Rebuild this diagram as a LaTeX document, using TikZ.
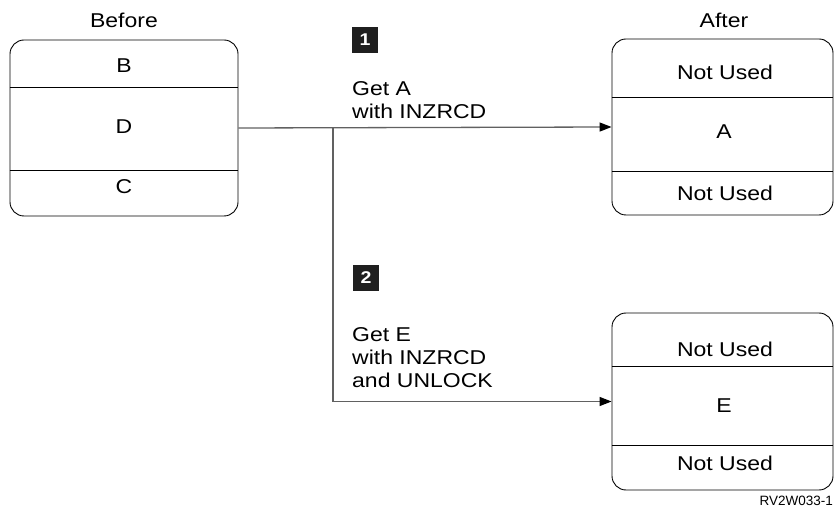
\documentclass[tikz,border=0pt]{standalone}
\usepackage{fontspec}
\setmainfont[FakeStretch=1.15]{Liberation Sans}
\newfontfamily\plainsans{Liberation Sans}
\usetikzlibrary{arrows.meta}
\begin{document}
\begin{tikzpicture}[x=1pt,y=-1pt,
  frame/.style={draw=black, line width=0.9pt, rounded corners=14pt, inner sep=0pt},
  sepline/.style={draw=black, line width=0.8pt},
  lbl/.style={font=\fontsize{20}{23}\selectfont, inner sep=0pt},
  small/.style={font=\plainsans\fontsize{13.5}{16}\selectfont, inner sep=0pt},
  numbox/.style={fill=black!88, text=white, font=\fontsize{17}{17}\selectfont\bfseries,
                 minimum width=26pt, minimum height=26pt, inner sep=0pt},
  flow/.style={draw=black!62, line width=1.3pt,
               -{Triangle[length=12pt,width=9pt,color=black]}}]
\useasboundingbox (0,0) rectangle (835,518);

% Before
\node[lbl] (lbefore) at (124,20) {Before};
\node[frame, minimum width=228pt, minimum height=176pt] (before) at (124,128) {};
\draw[sepline] (before.west |- 0,87) -- (before.east |- 0,87);
\draw[sepline] (before.west |- 0,170) -- (before.east |- 0,170);
\node[lbl] (tB) at (124,66) {B};
\node[lbl] (tD) at (124,127) {D};
\node[lbl] (tC) at (124,187) {C};

% After A
\node[lbl] (lafter) at (724,20) {After};
\node[frame, minimum width=221pt, minimum height=176pt] (afterA) at (722.5,127) {};
\draw[sepline] (afterA.west |- 0,97) -- (afterA.east |- 0,97);
\draw[sepline] (afterA.west |- 0,171) -- (afterA.east |- 0,171);
\node[lbl] (a1) at (725,72) {Not Used};
\node[lbl] (a2) at (724,132) {A};
\node[lbl] (a3) at (725,193) {Not Used};

% After E
\node[frame, minimum width=221pt, minimum height=177pt] (afterE) at (722.5,401.5) {};
\draw[sepline] (afterE.west |- 0,366) -- (afterE.east |- 0,366);
\draw[sepline] (afterE.west |- 0,445) -- (afterE.east |- 0,445);
\node[lbl] (e1) at (725,349) {Not Used};
\node[lbl] (e2) at (724,406) {E};
\node[lbl] (e3) at (725,463) {Not Used};

% connectors
\coordinate (br) at (333,128);
\draw[flow] (before.east) -- (afterA.west);
\draw[flow] (br) |- (afterE.west);

% step labels
\node[numbox] (n1) at (365,40) {1};
\node[lbl, align=left, anchor=north west] (t1) at (352,81) {Get A\\with INZRCD};
\node[numbox] (n2) at (366,278) {2};
\node[lbl, align=left, anchor=north west] (t2) at (352,327) {Get E\\with INZRCD\\and UNLOCK};

\node[small, anchor=east] (ref) at (833,501) {RV2W033-1};
\end{tikzpicture}
\end{document}
